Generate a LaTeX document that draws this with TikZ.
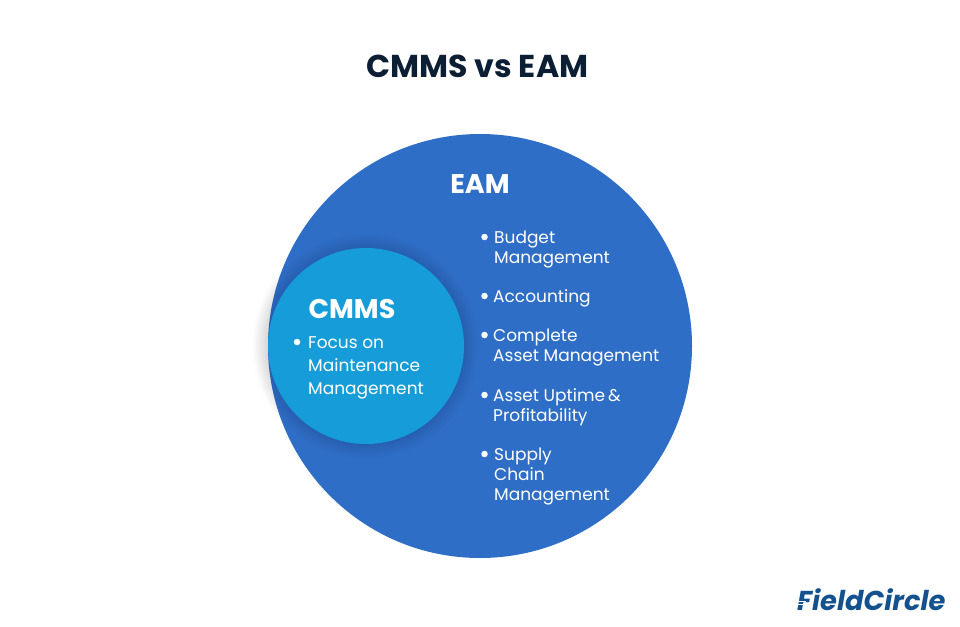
\documentclass[tikz,border=0pt]{standalone}
\usepackage{fontspec}
\setmainfont{Poppins}
\definecolor{eamblue}{HTML}{2F6EC6}
\definecolor{cmmsblue}{HTML}{169CD8}
\definecolor{titleink}{HTML}{0B1E33}
\definecolor{logoblue}{HTML}{14528F}
\tikzset{
  lbl/.style={text=white,font=\fontsize{17}{20}\selectfont,anchor=base west,inner sep=0pt,align=left},
  head/.style={text=white,font=\bfseries\fontsize{27}{30}\selectfont,anchor=base,inner sep=0pt},
  dot/.style={circle,fill=white,draw=none,inner sep=0pt,minimum size=6.5pt}
}
\begin{document}
\begin{tikzpicture}[x=1pt,y=-1pt]
\useasboundingbox (0,0) rectangle (960,626);
\fill[white] (0,0) rectangle (960,626);
\node[anchor=base,inner sep=0pt,text=titleink,font=\bfseries\fontsize{31.6}{36}\selectfont] (title) at (477.5,77.5) {CMMS vs EAM};
% soft shadow outside the large circle
\foreach \r in {2,4,...,16}{\fill[black,opacity=0.008] (366,346) circle ({98+\r});}
\node[circle,fill=eamblue,draw=none,minimum size=424pt,inner sep=0pt] (eam) at (480,346) {};
\foreach \r in {2,4,...,14}{\fill[black,opacity=0.012] (366,346) circle ({98+\r});}
\node[circle,fill=cmmsblue,draw=none,minimum size=196pt,inner sep=0pt] (cmms) at (366,346) {};
\node[head] (eamt) at (480,193) {EAM};
\node[head] (cmmst) at (352,318) {CMMS};
\node[dot] (d0) at (297,342) {};
\node[lbl] (t0) at (308,348) {Focus on};
\node[lbl] (t0b) at (308,371) {Maintenance};
\node[lbl] (t0c) at (308,394) {Management};
\node[dot] (d1) at (484.5,237) {};
\node[lbl] (t1) at (494,243) {Budget};
\node[lbl] (t1b) at (494,263) {Management};
\node[dot] (d2) at (484.5,296) {};
\node[lbl] (t2) at (493,302) {Accounting};
\node[dot] (d3) at (484.5,335) {};
\node[lbl] (t3) at (493,341) {Complete};
\node[lbl] (t3b) at (493,361) {Asset Management};
\node[dot] (d4) at (484.5,395) {};
\node[lbl] (t4) at (493,401) {Asset Uptime \kern-1.5pt\&};
\node[lbl] (t4b) at (493,421) {Profitability};
\node[dot] (d5) at (484.5,454) {};
\node[lbl] (t5) at (494,460) {Supply};
\node[lbl] (t5b) at (494,480) {Chain};
\node[lbl] (t5c) at (494,500) {Management};
% logo
\node[anchor=base west,inner sep=0pt,text=logoblue,font=\bfseries\itshape\fontsize{27.3}{30}\selectfont] (logo) at (797,610) {FieldCircle};
\draw[white,line width=0.9pt] (796,601.5) -- (806,601.5) (796,604.5) -- (805,604.5);
\end{tikzpicture}
\end{document}
